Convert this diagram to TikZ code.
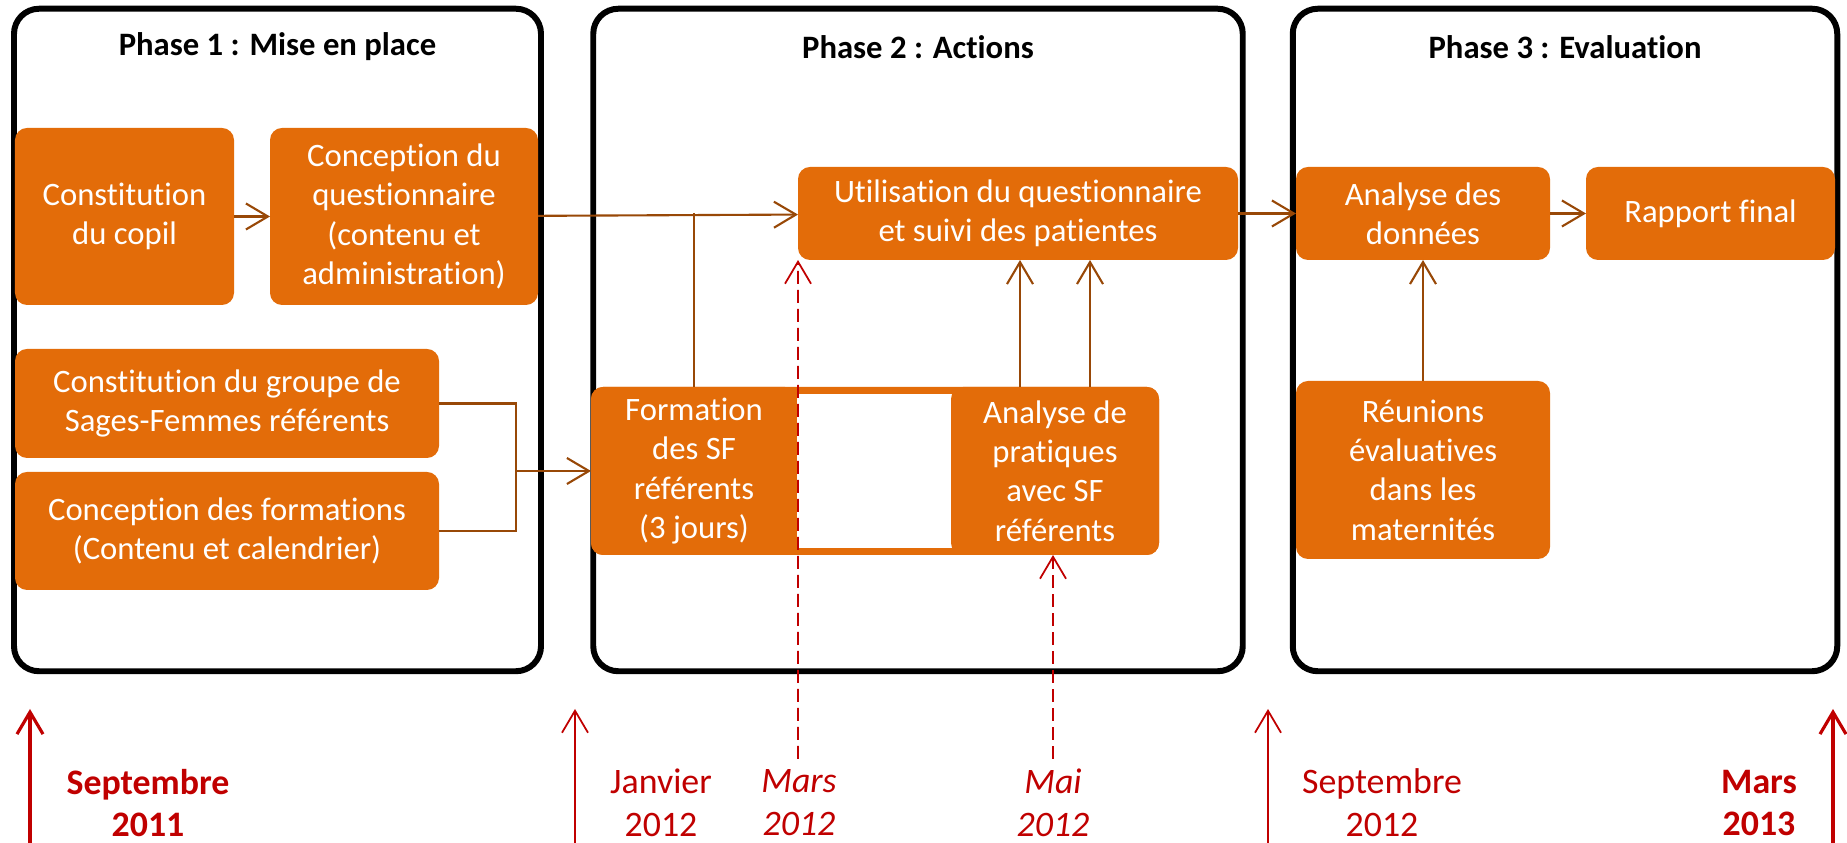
\documentclass[tikz,border=0pt]{standalone}
\usepackage{fontspec}
\setmainfont{Carlito}[Ligatures={NoCommon,NoContextual}, Contextuals=NoAlternate]
\usetikzlibrary{arrows.meta,positioning}
\tikzset{>={Straight Barb[length=2.2mm,width=2.6mm]}}
\definecolor{boxorange}{HTML}{E36C09}
\definecolor{linkbrown}{HTML}{984807}
\definecolor{datered}{HTML}{C00000}

\begin{document}
\begin{tikzpicture}[
    phase/.style={draw, line width=1.7pt, rounded corners=2.5mm, minimum height=6.625cm},
    title/.style={font=\fontsize{9.3}{11.2}\selectfont\bfseries},
    box/.style={fill=boxorange, text=white, rounded corners=1.2mm, align=center, inner sep=0pt, outer sep=0pt, font=\fontsize{9.3}{11.2}\selectfont},
    link/.style={draw=linkbrown, line width=0.6pt},
    tick/.style={draw=datered, ->},
    datemark/.style={draw=datered, ->, line width=0.5pt, dash pattern=on 1.3mm off 0.6mm},
    datelabel/.style={text=datered, align=center, font=\fontsize{10.2}{12.2}\selectfont}
  ]
  \useasboundingbox (0,0) rectangle (18.47,8.43);

  % phases
  \node[phase, minimum width=5.27cm] (p1) at (2.775,5.03) {};
  \node[phase, minimum width=6.495cm] (p2) at (9.18,5.03) {};
  \node[phase, minimum width=5.445cm] (p3) at (15.65,5.03) {};
  \node[title] (t1) at ([yshift=-4.1mm]p1.north) {Phase 1 : Mise en place};
  \node[title] (t2) at ([yshift=-4.1mm]p2.north) {Phase 2 : Actions};
  \node[title] (t3) at ([yshift=-4.1mm]p3.north) {Phase 3 : Evaluation};

  % phase 1
  \node[box, minimum width=2.19cm, minimum height=1.77cm] (copil) at (1.245,6.265) {Constitution\\du copil};
  \node[box, minimum width=2.68cm, minimum height=1.77cm, right=0.36cm of copil] (questionnaire) {Conception du\\questionnaire\\(contenu et\\administration)};
  \node[box, minimum width=4.24cm, minimum height=1.09cm] (groupe) at (2.27,4.395) {Constitution du groupe de\\Sages-Femmes référents};
  \node[box, minimum width=4.24cm, minimum height=1.18cm, below=0.14cm of groupe] (formations) {Conception des formations\\(Contenu et calendrier)};

  % phase 2
  \node[box, minimum width=4.40cm, minimum height=0.93cm] (utilisation) at (10.18,6.295) {Utilisation du questionnaire\\et suivi des patientes};
  \node[box, minimum width=5.68cm, minimum height=1.68cm] (span) at (8.75,3.72) {};
  \node[box, minimum width=2.06cm, minimum height=1.68cm, anchor=west] (formation) at (span.west) {Formation\\des SF\\référents\\(3 jours)};
  \fill[white] ([yshift=0.07cm]formation.south east) rectangle ([xshift=-1.98cm,yshift=-0.07cm]span.north east);
  \node[box, minimum width=2.08cm, minimum height=1.68cm, anchor=east] (pratiques) at (span.east) {Analyse de\\pratiques\\avec SF\\référents};

  % phase 3
  \node[box, minimum width=2.54cm, minimum height=0.93cm] (donnees) at (14.23,6.295) {Analyse des\\données};
  \node[box, minimum width=2.49cm, minimum height=0.93cm, right=0.36cm of donnees] (rapport) {Rapport final};
  \node[box, minimum width=2.54cm, minimum height=1.78cm, below=1.21cm of donnees] (reunions) {Réunions\\évaluatives\\dans les\\maternités};

  % links
  \draw[link, ->] (copil) -- (questionnaire);
  \draw[link, ->] (questionnaire) -- (utilisation);
  \draw[link] (formation.north) -- (formation.north |- utilisation.west);
  \path (formation.west) ++(-0.75,0) coordinate (jn);
  \draw[link] (groupe.east) -| (jn) |- (formations.east);
  \draw[link, ->] (jn) -- (formation.west);
  \draw[link, ->] ([xshift=-0.35cm]pratiques.north) -- ([xshift=-0.35cm]pratiques.north |- utilisation.south);
  \draw[link, ->] ([xshift=0.35cm]pratiques.north) -- ([xshift=0.35cm]pratiques.north |- utilisation.south);
  \draw[link, ->] (utilisation) -- (donnees);
  \draw[link, ->] (donnees) -- (rapport);
  \draw[link, ->] (reunions) -- (donnees);

  % timeline
  \coordinate (s11) at (0.30,-0.05);
  \coordinate (s11top) at (0.30,1.34);
  \coordinate (j12) at (5.75,-0.05);
  \coordinate (j12top) at (5.75,1.34);
  \coordinate (s12) at (12.68,-0.05);
  \coordinate (s12top) at (12.68,1.34);
  \coordinate (m13) at (18.33,-0.05);
  \coordinate (m13top) at (18.33,1.34);
  \draw[tick, line width=0.9pt] (s11) -- (s11top);
  \draw[tick, line width=0.5pt] (j12) -- (j12top);
  \draw[tick, line width=0.5pt] (s12) -- (s12top);
  \draw[tick, line width=0.9pt] (m13) -- (m13top);
  \coordinate (m12) at (7.98,0.84);
  \coordinate (mai12) at (10.53,0.84);
  \draw[datemark] (m12) -- (utilisation.south west);
  \draw[datemark] (mai12) -- (mai12 |- pratiques.south);

  \node[datelabel, font=\fontsize{10.2}{12.2}\selectfont\bfseries] (ls11) at (1.48,0.40) {Septembre\\2011};
  \node[datelabel] (lj12) at (6.61,0.40) {Janvier\\2012};
  \node[datelabel, font=\fontsize{10.2}{12.2}\selectfont\itshape] (lm12) at (7.99,0.40) {Mars\\2012};
  \node[datelabel, font=\fontsize{10.2}{12.2}\selectfont\itshape] (lmai12) at (10.53,0.40) {Mai\\2012};
  \node[datelabel] (ls12) at (13.82,0.40) {Septembre\\2012};
  \node[datelabel, font=\fontsize{10.2}{12.2}\selectfont\bfseries] (lm13) at (17.59,0.40) {Mars\\2013};
\end{tikzpicture}
\end{document}
